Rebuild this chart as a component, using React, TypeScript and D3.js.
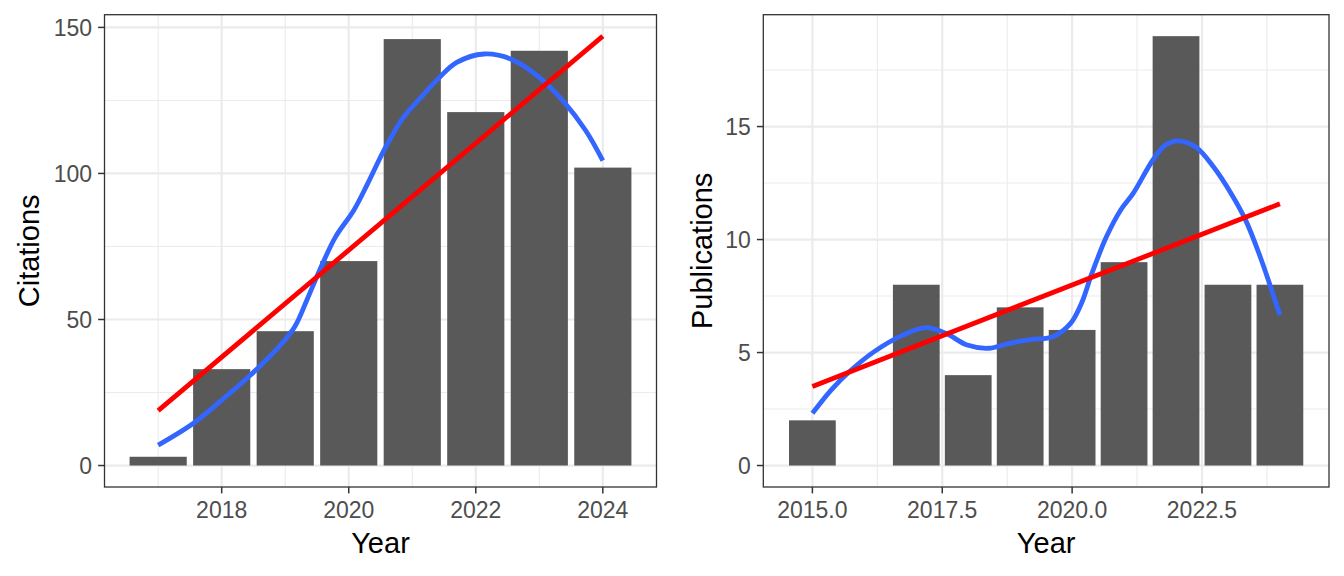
import React from "react";
import * as d3 from "d3";

// ---------- data ----------
const citeYears = [2017, 2018, 2019, 2020, 2021, 2022, 2023, 2024];
const citeValues = [3, 33, 46, 70, 146, 121, 142, 102];
const citeSmoothYears = [2017.0, 2017.55, 2018.0, 2018.45, 2018.9, 2019.15, 2019.34, 2019.54, 2019.79, 2020.08, 2020.3, 2020.58, 2020.86, 2021.14, 2021.43, 2021.7, 2022.13, 2022.55, 2023.0, 2023.39, 2023.73, 2024.0];
const citeSmoothValues = [7.0, 14.4, 22.4, 30.9, 40.6, 47.5, 56.6, 66.8, 78.2, 87.4, 96.6, 109, 119.2, 126.1, 132.9, 138, 140.9, 139.2, 132.9, 124.4, 114.7, 104.4];
const citeTrendYears = [2017, 2024];
const citeTrendValues = [18.8, 147.0];
const citeXTicks = [2018, 2020, 2022, 2024];
const citeXMinor = [2017, 2019, 2021, 2023];
const citeYTicks = [0, 50, 100, 150];
const citeYMinor = [25, 75, 125];

const pubYears = [2015, 2017, 2018, 2019, 2020, 2021, 2022, 2023, 2024];
const pubValues = [2, 8, 4, 7, 6, 9, 19, 8, 8];
const pubSmoothYears = [2015.0, 2015.36, 2015.71, 2016.19, 2016.74, 2017.19, 2017.57, 2017.98, 2018.39, 2018.8, 2019.22, 2019.63, 2019.97, 2020.18, 2020.38, 2020.66, 2020.935, 2021.175, 2021.555, 2021.795, 2022.035, 2022.38, 2022.72, 2023.06, 2023.34, 2023.62, 2023.82, 2024.0];
const pubSmoothValues = [2.31, 3.34, 4.15, 5.04, 5.77, 6.1, 5.85, 5.33, 5.19, 5.41, 5.58, 5.7, 6.29, 7.18, 8.5, 10.12, 11.31, 12.04, 13.52, 14.18, 14.37, 14.1, 13.22, 12.04, 10.86, 9.24, 7.91, 6.66];
const pubTrendYears = [2015, 2024];
const pubTrendValues = [3.5, 11.58];
const pubXTicks = [2015, 2017.5, 2020, 2022.5];
const pubXTickLabels = ["2015.0", "2017.5", "2020.0", "2022.5"];
const pubXMinor = [2016.25, 2018.75, 2021.25, 2023.75];
const pubYTicks = [0, 5, 10, 15];
const pubYMinor = [2.5, 7.5, 12.5, 17.5];

const FONT = "'Liberation Sans', Arial, Helvetica, sans-serif";

type PanelProps = {
  left: number; right: number; top: number; bottom: number;
  years: number[]; values: number[];
  sYears: number[]; sValues: number[];
  tYears: number[]; tValues: number[];
  xTicks: number[]; xTickLabels: string[]; xMinor: number[];
  yTicks: number[]; yMinor: number[];
  yTitle: string; yTitleX: number;
};

function Panel(p: PanelProps) {
  const xmin = d3.min(p.years)! - 0.45;
  const xmax = d3.max(p.years)! + 0.45;
  const xr = xmax - xmin;
  const x = d3.scaleLinear().domain([xmin - 0.05 * xr, xmax + 0.05 * xr]).range([p.left, p.right]);
  const M = Math.max(d3.max(p.values)!, d3.max(p.sValues)!, d3.max(p.tValues)!);
  const y = d3.scaleLinear().domain([-0.05 * M, 1.05 * M]).range([p.bottom, p.top]);
  const line = d3.line<[number, number]>().x(d => x(d[0])).y(d => y(d[1])).curve(d3.curveCatmullRom.alpha(0.5));
  const smooth = p.sYears.map((v, i) => [v, p.sValues[i]] as [number, number]);
  const trend = p.tYears.map((v, i) => [v, p.tValues[i]] as [number, number]);
  const bw = x(0.9) - x(0);
  const cx = (p.left + p.right) / 2;
  const cy = (p.top + p.bottom) / 2;
  return (
    <g>
      <rect x={p.left} y={p.top} width={p.right - p.left} height={p.bottom - p.top} fill="#FFFFFF" />
      {p.xMinor.map(v => (
        <line key={"xm" + v} x1={x(v)} x2={x(v)} y1={p.top} y2={p.bottom} stroke="#EBEBEB" strokeWidth={1.1} />
      ))}
      {p.yMinor.map(v => (
        <line key={"ym" + v} x1={p.left} x2={p.right} y1={y(v)} y2={y(v)} stroke="#EBEBEB" strokeWidth={1.1} />
      ))}
      {p.xTicks.map(v => (
        <line key={"xg" + v} x1={x(v)} x2={x(v)} y1={p.top} y2={p.bottom} stroke="#EBEBEB" strokeWidth={2.2} />
      ))}
      {p.yTicks.map(v => (
        <line key={"yg" + v} x1={p.left} x2={p.right} y1={y(v)} y2={y(v)} stroke="#EBEBEB" strokeWidth={2.2} />
      ))}
      {p.years.map((yr, i) => (
        <rect key={"b" + yr} x={x(yr) - bw / 2} width={bw} y={y(p.values[i])} height={y(0) - y(p.values[i])} fill="#595959" />
      ))}
      <path d={line(smooth)!} fill="none" stroke="#3366FF" strokeWidth={4.8} />
      <path d={d3.line<[number, number]>().x(d => x(d[0])).y(d => y(d[1]))(trend)!} fill="none" stroke="#FF0000" strokeWidth={4.8} />
      <rect x={p.left} y={p.top} width={p.right - p.left} height={p.bottom - p.top} fill="none" stroke="#333333" strokeWidth={1.3} />
      {p.xTicks.map((v, i) => (
        <g key={"xt" + v}>
          <line x1={x(v)} x2={x(v)} y1={p.bottom} y2={p.bottom + 6.4} stroke="#333333" strokeWidth={1.5} />
          <text x={x(v)} y={517.5} textAnchor="middle" fontFamily={FONT} fontSize={23} fill="#4D4D4D">{p.xTickLabels[i]}</text>
        </g>
      ))}
      {p.yTicks.map(v => (
        <g key={"yt" + v}>
          <line x1={p.left - 6.4} x2={p.left} y1={y(v)} y2={y(v)} stroke="#333333" strokeWidth={1.5} />
          <text x={p.left - 12.5} y={y(v)} dy="0.36em" textAnchor="end" fontFamily={FONT} fontSize={23} fill="#4D4D4D">{v}</text>
        </g>
      ))}
      <text x={cx} y={552.5} textAnchor="middle" fontFamily={FONT} fontSize={29} fill="#000000">Year</text>
      <text transform={`translate(${p.yTitleX},${cy}) rotate(-90)`} textAnchor="middle" fontFamily={FONT} fontSize={29} fill="#000000">{p.yTitle}</text>
    </g>
  );
}

export default function App() {
  return (
    <svg width={1344} height={576} style={{ position: "absolute", left: 0, top: 0, background: "#FFFFFF" }}>
      <rect x={0} y={0} width={1344} height={576} fill="#FFFFFF" />
      <Panel left={104.5} right={656.5} top={14.7} bottom={487}
        years={citeYears} values={citeValues}
        sYears={citeSmoothYears} sValues={citeSmoothValues}
        tYears={citeTrendYears} tValues={citeTrendValues}
        xTicks={citeXTicks} xTickLabels={citeXTicks.map(String)} xMinor={citeXMinor}
        yTicks={citeYTicks} yMinor={citeYMinor}
        yTitle="Citations" yTitleX={39} />
      <Panel left={763.3} right={1329} top={14.7} bottom={487}
        years={pubYears} values={pubValues}
        sYears={pubSmoothYears} sValues={pubSmoothValues}
        tYears={pubTrendYears} tValues={pubTrendValues}
        xTicks={pubXTicks} xTickLabels={pubXTickLabels} xMinor={pubXMinor}
        yTicks={pubYTicks} yMinor={pubYMinor}
        yTitle="Publications" yTitleX={711.5} />
    </svg>
  );
}
